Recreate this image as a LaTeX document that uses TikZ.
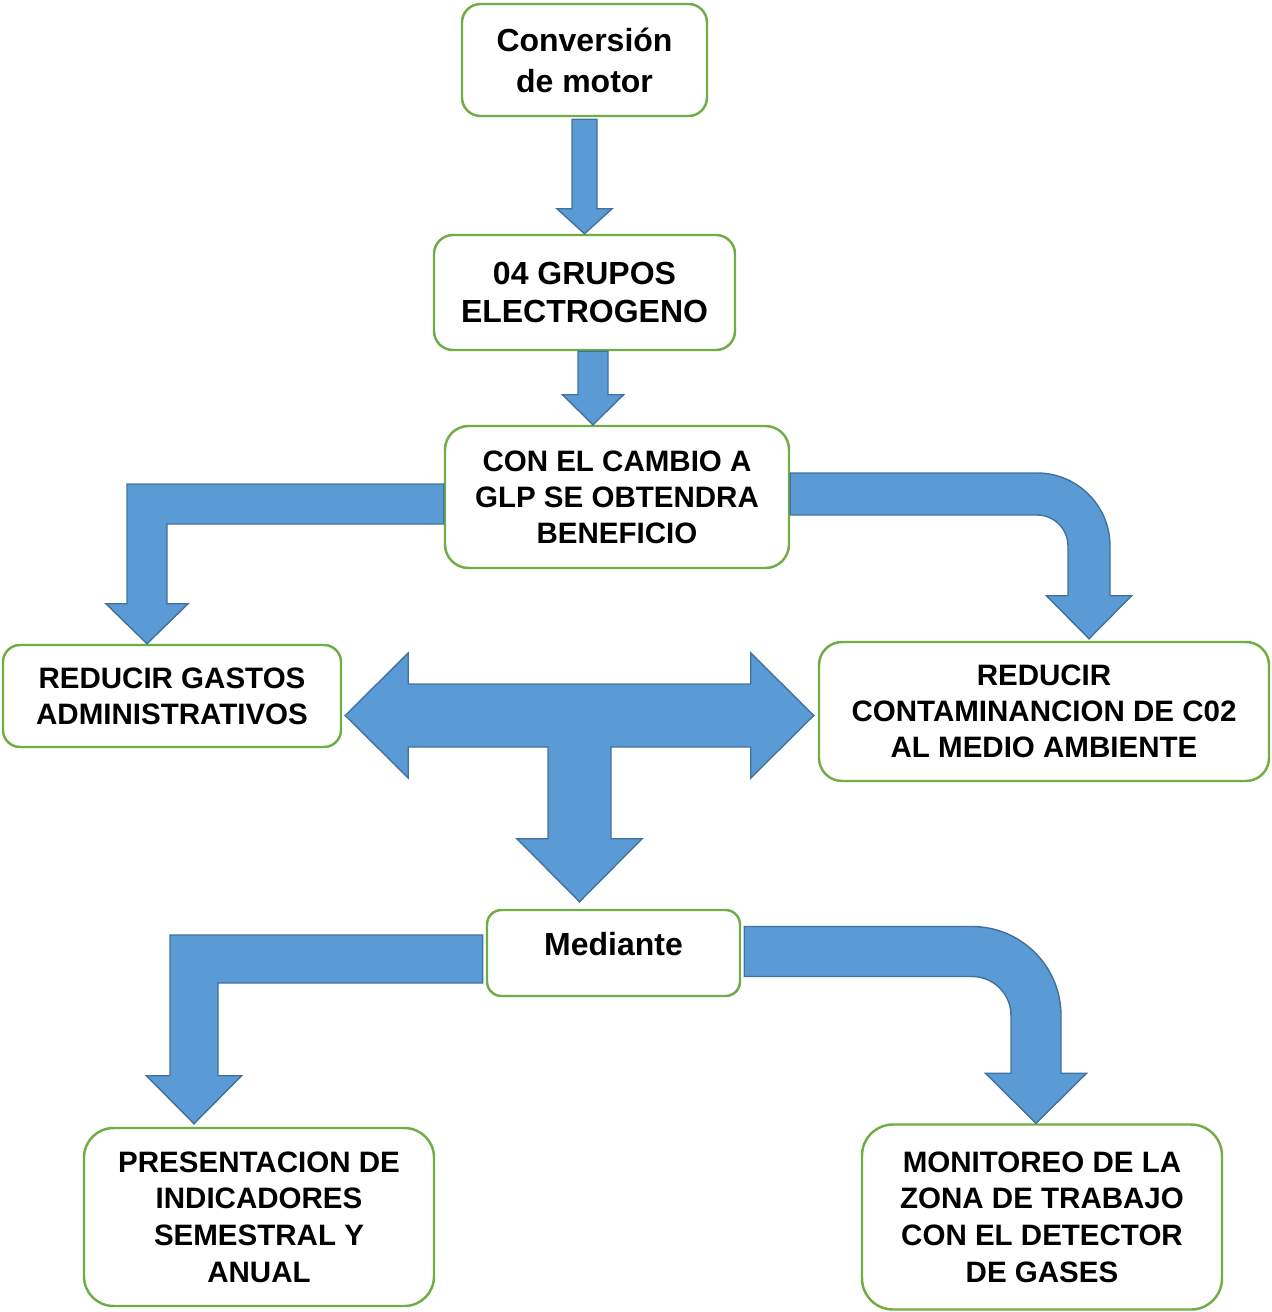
\documentclass[tikz,border=0pt]{standalone}
\usepackage{fontspec}
\setmainfont{Liberation Sans}
\usetikzlibrary{calc,positioning}
\definecolor{boxGreen}{RGB}{112,173,71}
\definecolor{arrowFill}{RGB}{91,155,213}
\definecolor{arrowLine}{RGB}{65,113,156}
\tikzstyle{recNode} = [rectangle, text centered, align=center, inner sep=0pt, draw=boxGreen, line width=1.4pt, font=\bfseries\fontsize{16.8}{20.5}\selectfont]
\tikzstyle{recNodeL} = [recNode, font=\bfseries\fontsize{18.2}{21.2}\selectfont]
\tikzstyle{arrowB} = [fill=arrowFill, draw=arrowLine, line width=0.8pt, line join=miter]
% block arrows: from, to, shaft half width, head half width, head length (, radius)
\newcommand{\blockDown}[5]{%
  \draw [arrowB] let \p1=(#1), \p2=(#2) in
    (\x2-#3,\y1) -- (\x2+#3,\y1) -- (\x2+#3,\y2+#5) -- (\x2+#4,\y2+#5) -- (\x2,\y2)
    -- (\x2-#4,\y2+#5) -- (\x2-#3,\y2+#5) -- cycle;}
\newcommand{\blockBendL}[5]{%
  \draw [arrowB] let \p1=(#1), \p2=(#2) in
    (\x1,\y1+#3) -- (\x2-#3,\y1+#3) -- (\x2-#3,\y2+#5) -- (\x2-#4,\y2+#5) -- (\x2,\y2)
    -- (\x2+#4,\y2+#5) -- (\x2+#3,\y2+#5) -- (\x2+#3,\y1-#3) -- (\x1,\y1-#3) -- cycle;}
\newcommand{\blockBendR}[6]{%
  \draw [arrowB] let \p1=(#1), \p2=(#2) in
    (\x1,\y1+#3) -- (\x2-#6,\y1+#3) arc[start angle=90, end angle=0, radius=#6+#3]
    -- (\x2+#3,\y2+#5) -- (\x2+#4,\y2+#5) -- (\x2,\y2) -- (\x2-#4,\y2+#5) -- (\x2-#3,\y2+#5)
    -- (\x2-#3,\y1-#6) arc[start angle=0, end angle=90, radius=#6-#3] -- (\x1,\y1-#3) -- cycle;}

\begin{document}
\begin{tikzpicture}[node distance=2cm]
    \useasboundingbox (0,0) rectangle (25.42,-26.24);
    \node (conv) [recNodeL, minimum width=4.9cm, minimum height=2.24cm, rounded corners=0.37cm, font=\bfseries\fontsize{18.2}{23.3}\selectfont] at (11.69,-1.2) {Conversión\\de motor};
    \node (grupos) [recNodeL, below of=conv, yshift=-2.65cm, minimum width=6.02cm, minimum height=2.3cm, rounded corners=0.38cm] {04 GRUPOS\\ELECTROGENO};
    \node (cambio) [recNode, below of=grupos, xshift=0.65cm, yshift=-2.09cm, minimum width=6.88cm, minimum height=2.84cm, rounded corners=0.47cm] {CON EL CAMBIO A\\GLP SE OBTENDRA\\BENEFICIO};
    \node (gastos) [recNode, below of=cambio, xshift=-8.9cm, yshift=-1.98cm, minimum width=6.76cm, minimum height=2.04cm, rounded corners=0.34cm] {REDUCIR GASTOS\\ADMINISTRATIVOS};
    \node (contam) [recNode, below of=cambio, xshift=8.54cm, yshift=-2.29cm, minimum width=9cm, minimum height=2.78cm, rounded corners=0.46cm] {REDUCIR\\CONTAMINANCION DE C02\\AL MEDIO AMBIENTE};
    \node (mediante) [recNodeL, below of=cambio, xshift=-0.07cm, yshift=-7.12cm, minimum width=5.06cm, minimum height=1.72cm, rounded corners=0.29cm, text height=0.5cm, text depth=0.4cm] {Mediante};
    \node (present) [recNode, below of=mediante, xshift=-7.09cm, yshift=-3.28cm, minimum width=7cm, minimum height=3.56cm, rounded corners=0.59cm, font=\bfseries\fontsize{16.8}{20.8}\selectfont] {PRESENTACION DE\\INDICADORES\\SEMESTRAL Y\\ANUAL};
    \node (monitor) [recNode, below of=mediante, xshift=8.57cm, yshift=-3.28cm, minimum width=7.2cm, minimum height=3.7cm, rounded corners=0.62cm, font=\bfseries\fontsize{16.8}{20.8}\selectfont] {MONITOREO DE LA\\ZONA DE TRABAJO\\CON EL DETECTOR\\DE GASES};

    \blockDown{$(conv.south)+(0,-0.04)$}{grupos.north}{0.25cm}{0.55cm}{0.5cm}
    \blockDown{$(grupos.south)+(0.17,0)$}{$(cambio.north)+(-0.48,0)$}{0.3cm}{0.61cm}{0.6cm}
    \blockBendL{$(cambio.west)+(0,-0.14)$}{$(gastos.north)+(-0.5,0)$}{0.4cm}{0.82cm}{0.8cm}
    \blockBendR{$(cambio.east)+(0,0.06)$}{$(contam.north)+(0.9,0.04)$}{0.42cm}{0.85cm}{0.86cm}{1.04cm}

    % three way arrow between the two results and Mediante
    \coordinate (tl) at ($(gastos.east)+(0.06,-0.39)$);
    \coordinate (tr) at ($(contam.west)+(-0.08,-0.08)$);
    \coordinate (td) at ($(mediante.north)+(-0.68,0.14)$);
    \draw [arrowB] let \p1=(tl), \p2=(tr), \p3=(td) in
        (\x1,\y1) -- (\x1+1.26cm,\y1+1.25cm) -- (\x1+1.26cm,\y1+0.63cm) -- (\x2-1.26cm,\y1+0.63cm)
        -- (\x2-1.26cm,\y1+1.25cm) -- (\x2,\y1) -- (\x2-1.26cm,\y1-1.25cm) -- (\x2-1.26cm,\y1-0.63cm)
        -- (\x3+0.63cm,\y1-0.63cm) -- (\x3+0.63cm,\y3+1.26cm) -- (\x3+1.25cm,\y3+1.26cm) -- (\x3,\y3)
        -- (\x3-1.25cm,\y3+1.26cm) -- (\x3-0.63cm,\y3+1.26cm) -- (\x3-0.63cm,\y1-0.63cm)
        -- (\x1+1.26cm,\y1-0.63cm) -- (\x1+1.26cm,\y1-1.25cm) -- cycle;

    \blockBendL{$(mediante.west)+(-0.06,-0.12)$}{$(present.north)+(-1.3,0.06)$}{0.48cm}{0.95cm}{0.96cm}
    \blockBendR{$(mediante.east)+(0.06,0.03)$}{$(monitor.north)+(-0.12,0)$}{0.5cm}{1.01cm}{1cm}{1.28cm}
\end{tikzpicture}
\end{document}
